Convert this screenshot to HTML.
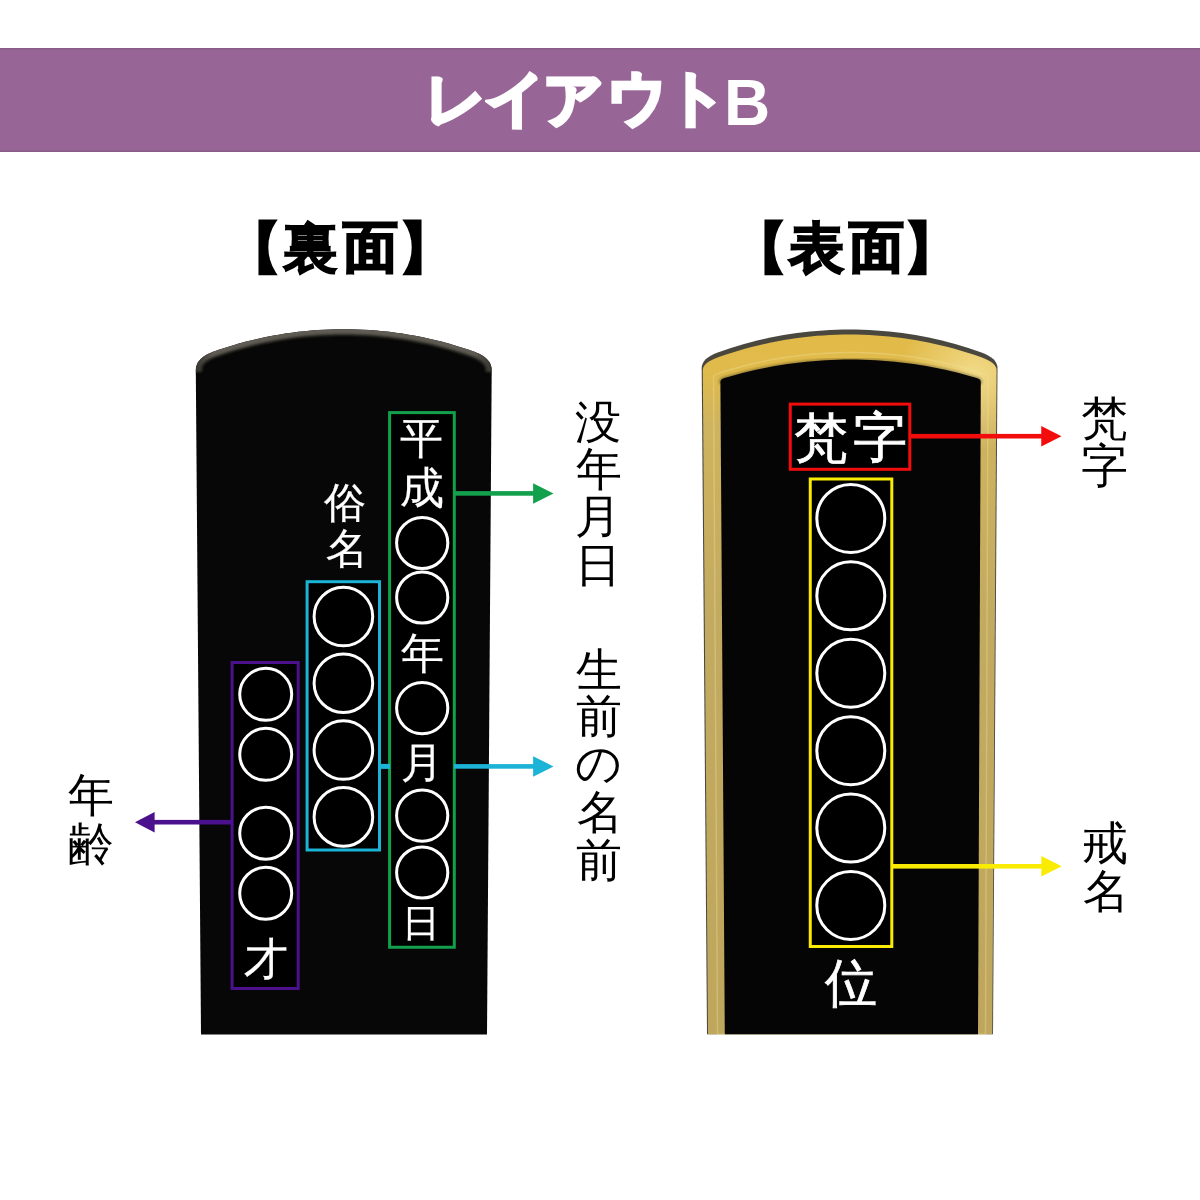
<!DOCTYPE html>
<html lang="ja"><head><meta charset="utf-8"><title>レイアウトB</title>
<style>
html,body{margin:0;padding:0;background:#fff;}
body{width:1200px;height:1200px;position:relative;overflow:hidden;font-family:"Liberation Sans",sans-serif;}
.g{position:absolute;white-space:pre;font-family:"Liberation Sans",sans-serif;will-change:transform;}
</style></head><body>
<svg width="1200" height="1200" viewBox="0 0 1200 1200" style="position:absolute;left:0;top:0">
<defs>
<linearGradient id="goldSide" x1="0" y1="0" x2="1" y2="0">
 <stop offset="0" stop-color="#c9b46a"/>
 <stop offset="0.5" stop-color="#bfa45c"/>
 <stop offset="1" stop-color="#c6b06a"/>
</linearGradient>
<linearGradient id="goldTop" x1="0" y1="0" x2="0" y2="1">
 <stop offset="0" stop-color="#e2ba48"/>
 <stop offset="0.05" stop-color="#e0bb4c"/>
 <stop offset="0.13" stop-color="#cfb35e"/>
 <stop offset="0.4" stop-color="#c2aa60"/>
 <stop offset="1" stop-color="#bea65c"/>
</linearGradient>
<filter id="soft" x="-5%" y="-5%" width="110%" height="110%"><feGaussianBlur stdDeviation="0.8"/></filter>
<linearGradient id="bevelFade" x1="0" y1="0" x2="1" y2="0">
 <stop offset="0" stop-color="#5f5b53" stop-opacity="0.25"/>
 <stop offset="0.06" stop-color="#5f5b53" stop-opacity="1"/>
 <stop offset="0.94" stop-color="#5f5b53" stop-opacity="1"/>
 <stop offset="1" stop-color="#5f5b53" stop-opacity="0.25"/>
</linearGradient>
<radialGradient id="paleTR" gradientUnits="userSpaceOnUse" cx="975" cy="375" r="75">
 <stop offset="0" stop-color="#fff3b8" stop-opacity="0.55"/>
 <stop offset="1" stop-color="#fff3b8" stop-opacity="0"/>
</radialGradient>
<clipPath id="clipL"><path d="M201.00,1034.50 L195.80,370.00 Q195.80,357.83 213.80,351.47 L220.30,349.24 L226.80,347.13 L233.29,345.15 L239.79,343.30 L246.29,341.56 L252.79,339.94 L259.28,338.45 L265.78,337.06 L272.28,335.80 L278.77,334.64 L285.27,333.60 L291.77,332.67 L298.27,331.86 L304.76,331.15 L311.26,330.55 L317.76,330.06 L324.26,329.68 L330.75,329.41 L337.25,329.25 L343.75,329.20 L350.25,329.25 L356.75,329.42 L363.24,329.69 L369.74,330.07 L376.24,330.56 L382.74,331.16 L389.23,331.87 L395.73,332.69 L402.23,333.62 L408.73,334.66 L415.22,335.81 L421.72,337.08 L428.22,338.47 L434.71,339.97 L441.21,341.59 L447.71,343.33 L454.21,345.18 L460.70,347.17 L467.20,349.27 L473.70,351.50 Q491.70,357.87 491.70,370.00 L487.00,1034.50 Z"/></clipPath>
<clipPath id="clipR"><path d="M707.00,1034.20 L701.70,368.00 Q701.70,358.23 717.70,352.48 L724.30,350.18 L730.89,348.01 L737.49,345.96 L744.08,344.05 L750.68,342.25 L757.27,340.59 L763.87,339.04 L770.46,337.61 L777.06,336.31 L783.65,335.12 L790.25,334.04 L796.84,333.09 L803.44,332.24 L810.03,331.51 L816.62,330.90 L823.22,330.39 L829.82,330.00 L836.41,329.72 L843.00,329.56 L849.60,329.50 L856.20,329.56 L862.79,329.72 L869.38,330.00 L875.98,330.39 L882.58,330.90 L889.17,331.51 L895.76,332.24 L902.36,333.09 L908.96,334.04 L915.55,335.12 L922.14,336.31 L928.74,337.61 L935.34,339.04 L941.93,340.59 L948.52,342.25 L955.12,344.05 L961.72,345.96 L968.31,348.01 L974.90,350.18 L981.50,352.48 Q997.50,358.23 997.50,368.00 L993.00,1034.20 Z"/></clipPath>
</defs>
<rect x="0" y="48" width="1200" height="104" fill="#976696"/>
<rect x="0" y="48" width="1200" height="1.5" fill="#8a5c88"/>
<rect x="0" y="150.5" width="1200" height="1.5" fill="#8a5c88"/>
<path d="M201.00,1034.50 L195.80,370.00 Q195.80,357.83 213.80,351.47 L220.30,349.24 L226.80,347.13 L233.29,345.15 L239.79,343.30 L246.29,341.56 L252.79,339.94 L259.28,338.45 L265.78,337.06 L272.28,335.80 L278.77,334.64 L285.27,333.60 L291.77,332.67 L298.27,331.86 L304.76,331.15 L311.26,330.55 L317.76,330.06 L324.26,329.68 L330.75,329.41 L337.25,329.25 L343.75,329.20 L350.25,329.25 L356.75,329.42 L363.24,329.69 L369.74,330.07 L376.24,330.56 L382.74,331.16 L389.23,331.87 L395.73,332.69 L402.23,333.62 L408.73,334.66 L415.22,335.81 L421.72,337.08 L428.22,338.47 L434.71,339.97 L441.21,341.59 L447.71,343.33 L454.21,345.18 L460.70,347.17 L467.20,349.27 L473.70,351.50 Q491.70,357.87 491.70,370.00 L487.00,1034.50 Z" fill="#070707"/>
<g clip-path="url(#clipL)" filter="url(#soft)"><path d="M195.80,372.00 L195.80,370.00 Q195.80,357.83 213.80,351.47 L220.30,349.24 L226.80,347.13 L233.29,345.15 L239.79,343.30 L246.29,341.56 L252.79,339.94 L259.28,338.45 L265.78,337.06 L272.28,335.80 L278.77,334.64 L285.27,333.60 L291.77,332.67 L298.27,331.86 L304.76,331.15 L311.26,330.55 L317.76,330.06 L324.26,329.68 L330.75,329.41 L337.25,329.25 L343.75,329.20 L350.25,329.25 L356.75,329.42 L363.24,329.69 L369.74,330.07 L376.24,330.56 L382.74,331.16 L389.23,331.87 L395.73,332.69 L402.23,333.62 L408.73,334.66 L415.22,335.81 L421.72,337.08 L428.22,338.47 L434.71,339.97 L441.21,341.59 L447.71,343.33 L454.21,345.18 L460.70,347.17 L467.20,349.27 L473.70,351.50 Q491.70,357.87 491.70,370.00 L491.70,372.00" fill="none" stroke="#34322d" stroke-width="13" opacity="0.8"/><path d="M195.80,372.00 L195.80,370.00 Q195.80,357.83 213.80,351.47 L220.30,349.24 L226.80,347.13 L233.29,345.15 L239.79,343.30 L246.29,341.56 L252.79,339.94 L259.28,338.45 L265.78,337.06 L272.28,335.80 L278.77,334.64 L285.27,333.60 L291.77,332.67 L298.27,331.86 L304.76,331.15 L311.26,330.55 L317.76,330.06 L324.26,329.68 L330.75,329.41 L337.25,329.25 L343.75,329.20 L350.25,329.25 L356.75,329.42 L363.24,329.69 L369.74,330.07 L376.24,330.56 L382.74,331.16 L389.23,331.87 L395.73,332.69 L402.23,333.62 L408.73,334.66 L415.22,335.81 L421.72,337.08 L428.22,338.47 L434.71,339.97 L441.21,341.59 L447.71,343.33 L454.21,345.18 L460.70,347.17 L467.20,349.27 L473.70,351.50 Q491.70,357.87 491.70,370.00 L491.70,372.00" fill="none" stroke="url(#bevelFade)" stroke-width="9"/></g>
<path d="M707.00,1034.20 L701.70,368.00 Q701.70,358.23 717.70,352.48 L724.30,350.18 L730.89,348.01 L737.49,345.96 L744.08,344.05 L750.68,342.25 L757.27,340.59 L763.87,339.04 L770.46,337.61 L777.06,336.31 L783.65,335.12 L790.25,334.04 L796.84,333.09 L803.44,332.24 L810.03,331.51 L816.62,330.90 L823.22,330.39 L829.82,330.00 L836.41,329.72 L843.00,329.56 L849.60,329.50 L856.20,329.56 L862.79,329.72 L869.38,330.00 L875.98,330.39 L882.58,330.90 L889.17,331.51 L895.76,332.24 L902.36,333.09 L908.96,334.04 L915.55,335.12 L922.14,336.31 L928.74,337.61 L935.34,339.04 L941.93,340.59 L948.52,342.25 L955.12,344.05 L961.72,345.96 L968.31,348.01 L974.90,350.18 L981.50,352.48 Q997.50,358.23 997.50,368.00 L993.00,1034.20 Z" fill="#4a473f"/>
<path d="M708.00,1034.20 L702.80,370.00 Q702.80,362.78 718.80,357.09 L725.34,354.82 L731.88,352.69 L738.43,350.68 L744.97,348.80 L751.51,347.04 L758.05,345.40 L764.60,343.88 L771.14,342.47 L777.68,341.19 L784.22,340.02 L790.77,338.96 L797.31,338.02 L803.85,337.19 L810.39,336.48 L816.94,335.87 L823.48,335.38 L830.02,334.99 L836.56,334.72 L843.11,334.55 L849.65,334.50 L856.19,334.56 L862.74,334.72 L869.28,335.00 L875.82,335.38 L882.36,335.88 L888.90,336.49 L895.45,337.20 L901.99,338.03 L908.53,338.98 L915.08,340.04 L921.62,341.21 L928.16,342.49 L934.70,343.90 L941.25,345.42 L947.79,347.06 L954.33,348.83 L960.87,350.71 L967.41,352.72 L973.96,354.86 L980.50,357.12 Q996.50,362.82 996.50,370.00 L992.20,1034.20 Z" fill="url(#goldTop)"/>
<path d="M708.00,1034.20 L702.80,370.00 Q702.80,362.78 718.80,357.09 L725.34,354.82 L731.88,352.69 L738.43,350.68 L744.97,348.80 L751.51,347.04 L758.05,345.40 L764.60,343.88 L771.14,342.47 L777.68,341.19 L784.22,340.02 L790.77,338.96 L797.31,338.02 L803.85,337.19 L810.39,336.48 L816.94,335.87 L823.48,335.38 L830.02,334.99 L836.56,334.72 L843.11,334.55 L849.65,334.50 L856.19,334.56 L862.74,334.72 L869.28,335.00 L875.82,335.38 L882.36,335.88 L888.90,336.49 L895.45,337.20 L901.99,338.03 L908.53,338.98 L915.08,340.04 L921.62,341.21 L928.16,342.49 L934.70,343.90 L941.25,345.42 L947.79,347.06 L954.33,348.83 L960.87,350.71 L967.41,352.72 L973.96,354.86 L980.50,357.12 Q996.50,362.82 996.50,370.00 L992.20,1034.20 Z" fill="url(#paleTR)"/>
<path d="M717.50,1034.20 L713.50,376.00 Q713.50,374.75 725.50,371.10 L731.76,369.25 L738.02,367.50 L744.29,365.85 L750.55,364.30 L756.81,362.85 L763.08,361.50 L769.34,360.25 L775.60,359.09 L781.86,358.03 L788.12,357.06 L794.39,356.19 L800.65,355.41 L806.91,354.73 L813.17,354.13 L819.44,353.63 L825.70,353.22 L831.96,352.90 L838.23,352.68 L844.49,352.54 L850.75,352.50 L857.01,352.55 L863.27,352.69 L869.54,352.92 L875.80,353.24 L882.06,353.65 L888.33,354.16 L894.59,354.76 L900.85,355.45 L907.11,356.23 L913.38,357.11 L919.64,358.08 L925.90,359.14 L932.16,360.31 L938.42,361.56 L944.69,362.92 L950.95,364.37 L957.21,365.93 L963.48,367.58 L969.74,369.33 L976.00,371.19 Q988.00,374.85 988.00,376.00 L985.50,1034.20 Z" fill="none" stroke="#f0e2a0" stroke-width="1.5" opacity="0.35"/>
<g clip-path="url(#clipR)"><path d="M720.40,384.00 L720.40,382.00 Q720.40,379.18 724.40,377.99 L730.71,376.15 L737.02,374.41 L743.33,372.78 L749.64,371.24 L755.95,369.80 L762.26,368.46 L768.57,367.21 L774.88,366.06 L781.19,365.01 L787.50,364.05 L793.81,363.18 L800.12,362.41 L806.43,361.72 L812.74,361.13 L819.05,360.63 L825.36,360.22 L831.67,359.91 L837.98,359.68 L844.29,359.55 L850.60,359.50 L856.91,359.55 L863.22,359.68 L869.53,359.91 L875.84,360.22 L882.15,360.63 L888.46,361.13 L894.77,361.72 L901.08,362.41 L907.39,363.18 L913.70,364.05 L920.01,365.01 L926.32,366.06 L932.63,367.21 L938.94,368.46 L945.25,369.80 L951.56,371.24 L957.87,372.78 L964.18,374.41 L970.49,376.15 L976.80,377.99 Q980.80,379.18 980.80,382.00 L980.80,384.00" fill="none" stroke="#2a2210" stroke-width="3" opacity="0.35" filter="url(#soft)"/></g>
<path d="M724.80,1034.20 L720.40,382.00 Q720.40,379.18 724.40,377.99 L730.71,376.15 L737.02,374.41 L743.33,372.78 L749.64,371.24 L755.95,369.80 L762.26,368.46 L768.57,367.21 L774.88,366.06 L781.19,365.01 L787.50,364.05 L793.81,363.18 L800.12,362.41 L806.43,361.72 L812.74,361.13 L819.05,360.63 L825.36,360.22 L831.67,359.91 L837.98,359.68 L844.29,359.55 L850.60,359.50 L856.91,359.55 L863.22,359.68 L869.53,359.91 L875.84,360.22 L882.15,360.63 L888.46,361.13 L894.77,361.72 L901.08,362.41 L907.39,363.18 L913.70,364.05 L920.01,365.01 L926.32,366.06 L932.63,367.21 L938.94,368.46 L945.25,369.80 L951.56,371.24 L957.87,372.78 L964.18,374.41 L970.49,376.15 L976.80,377.99 Q980.80,379.18 980.80,382.00 L978.00,1034.20 Z" fill="#040504"/>
<rect x="389.60" y="412.60" width="64.70" height="534.65" fill="#000" stroke="#12a04c" stroke-width="3"/>
<rect x="307.10" y="581.70" width="72.40" height="268.30" fill="#000" stroke="#1bb3d6" stroke-width="3"/>
<rect x="232.10" y="662.50" width="66.10" height="326.00" fill="#000" stroke="#4b118d" stroke-width="3"/>
<rect x="790.25" y="404.10" width="119.55" height="65.20" fill="#000" stroke="#f20c0c" stroke-width="3"/>
<rect x="810.25" y="479.00" width="81.55" height="467.50" fill="#000" stroke="#faeb02" stroke-width="3"/>
<rect x="454.00" y="491.10" width="80.10" height="4.6" fill="#12a04c"/><path d="M533.10,483.15 L553.50,493.40 L533.10,503.65 Z" fill="#12a04c"/>
<rect x="380" y="763.90" width="10" height="5" fill="#1bb3d6"/>
<rect x="454.00" y="764.10" width="80.10" height="4.6" fill="#1bb3d6"/><path d="M533.10,756.15 L553.50,766.40 L533.10,776.65 Z" fill="#1bb3d6"/>
<rect x="153.60" y="819.90" width="78.40" height="4.6" fill="#4b118d"/><path d="M154.60,811.95 L135.00,822.20 L154.60,832.45 Z" fill="#4b118d"/>
<rect x="910.00" y="433.90" width="132.25" height="4.6" fill="#f20c0c"/><path d="M1041.25,425.95 L1061.50,436.20 L1041.25,446.45 Z" fill="#f20c0c"/>
<rect x="892.00" y="864.00" width="150.30" height="4.6" fill="#faeb02"/><path d="M1041.30,856.05 L1061.70,866.30 L1041.30,876.55 Z" fill="#faeb02"/>
<circle cx="422.20" cy="543.00" r="25.60" fill="none" stroke="#fff" stroke-width="3"/>
<circle cx="422.20" cy="597.50" r="25.60" fill="none" stroke="#fff" stroke-width="3"/>
<circle cx="422.20" cy="708.10" r="25.60" fill="none" stroke="#fff" stroke-width="3"/>
<circle cx="422.20" cy="815.60" r="25.60" fill="none" stroke="#fff" stroke-width="3"/>
<circle cx="422.20" cy="872.50" r="25.60" fill="none" stroke="#fff" stroke-width="3"/>
<circle cx="343.40" cy="616.50" r="29.30" fill="none" stroke="#fff" stroke-width="3"/>
<circle cx="343.40" cy="683.20" r="29.30" fill="none" stroke="#fff" stroke-width="3"/>
<circle cx="343.40" cy="750.00" r="29.30" fill="none" stroke="#fff" stroke-width="3"/>
<circle cx="343.40" cy="816.90" r="29.30" fill="none" stroke="#fff" stroke-width="3"/>
<circle cx="265.70" cy="694.35" r="26.00" fill="none" stroke="#fff" stroke-width="3"/>
<circle cx="265.70" cy="754.35" r="26.00" fill="none" stroke="#fff" stroke-width="3"/>
<circle cx="265.70" cy="833.25" r="26.00" fill="none" stroke="#fff" stroke-width="3"/>
<circle cx="265.70" cy="893.30" r="26.00" fill="none" stroke="#fff" stroke-width="3"/>
<circle cx="850.80" cy="518.40" r="34.00" fill="none" stroke="#fff" stroke-width="3"/>
<circle cx="850.80" cy="595.82" r="34.00" fill="none" stroke="#fff" stroke-width="3"/>
<circle cx="850.80" cy="673.24" r="34.00" fill="none" stroke="#fff" stroke-width="3"/>
<circle cx="850.80" cy="750.66" r="34.00" fill="none" stroke="#fff" stroke-width="3"/>
<circle cx="850.80" cy="828.08" r="34.00" fill="none" stroke="#fff" stroke-width="3"/>
<circle cx="850.80" cy="905.50" r="34.00" fill="none" stroke="#fff" stroke-width="3"/>
</svg>
<div class="g" style="left:425.15px;top:69.55px;font-size:60px;line-height:60px;color:#ffffff;font-weight:bold;-webkit-text-stroke:3.60px #ffffff;">レ</div>
<div class="g" style="left:484.85px;top:68.60px;font-size:60px;line-height:60px;color:#ffffff;font-weight:bold;-webkit-text-stroke:3.60px #ffffff;">イ</div>
<div class="g" style="left:542.60px;top:69.75px;font-size:60px;line-height:60px;color:#ffffff;font-weight:bold;-webkit-text-stroke:3.60px #ffffff;">ア</div>
<div class="g" style="left:606.50px;top:68.25px;font-size:60px;line-height:60px;color:#ffffff;font-weight:bold;-webkit-text-stroke:3.60px #ffffff;">ウ</div>
<div class="g" style="left:665.55px;top:67.85px;font-size:60px;line-height:60px;color:#ffffff;font-weight:bold;-webkit-text-stroke:3.60px #ffffff;">ト</div>
<div class="g" style="left:723.70px;top:70.78px;font-size:64px;line-height:64px;color:#ffffff;font-weight:bold;">B</div>
<div class="g" style="left:226.37px;top:221.12px;font-size:55px;line-height:55px;color:#000000;font-weight:bold;-webkit-text-stroke:2.20px #000000;">【</div>
<div class="g" style="left:282.88px;top:221.25px;font-size:55px;line-height:55px;color:#000000;font-weight:bold;-webkit-text-stroke:1.10px #000000;">裏</div>
<div class="g" style="left:343.32px;top:219.62px;font-size:55px;line-height:55px;color:#000000;font-weight:bold;-webkit-text-stroke:2.20px #000000;">面</div>
<div class="g" style="left:398.52px;top:221.12px;font-size:55px;line-height:55px;color:#000000;font-weight:bold;-webkit-text-stroke:2.20px #000000;">】</div>
<div class="g" style="left:732.23px;top:221.12px;font-size:55px;line-height:55px;color:#000000;font-weight:bold;-webkit-text-stroke:2.20px #000000;">【</div>
<div class="g" style="left:789.02px;top:220.85px;font-size:55px;line-height:55px;color:#000000;font-weight:bold;-webkit-text-stroke:1.93px #000000;">表</div>
<div class="g" style="left:849.48px;top:219.88px;font-size:55px;line-height:55px;color:#000000;font-weight:bold;-webkit-text-stroke:2.20px #000000;">面</div>
<div class="g" style="left:903.92px;top:221.12px;font-size:55px;line-height:55px;color:#000000;font-weight:bold;-webkit-text-stroke:2.20px #000000;">】</div>
<div class="g" style="left:575.36px;top:398.57px;font-size:46px;line-height:46px;color:#000000;font-weight:normal;">没</div>
<div class="g" style="left:575.89px;top:446.49px;font-size:46px;line-height:46px;color:#000000;font-weight:normal;">年</div>
<div class="g" style="left:575.31px;top:493.47px;font-size:46px;line-height:46px;color:#000000;font-weight:normal;">月</div>
<div class="g" style="left:575.19px;top:541.97px;font-size:46px;line-height:46px;color:#000000;font-weight:normal;">日</div>
<div class="g" style="left:575.74px;top:647.03px;font-size:46px;line-height:46px;color:#000000;font-weight:normal;">生</div>
<div class="g" style="left:575.51px;top:693.09px;font-size:46px;line-height:46px;color:#000000;font-weight:normal;">前</div>
<div class="g" style="left:574.93px;top:740.03px;font-size:46px;line-height:46px;color:#000000;font-weight:normal;">の</div>
<div class="g" style="left:577.49px;top:789.12px;font-size:46px;line-height:46px;color:#000000;font-weight:normal;">名</div>
<div class="g" style="left:575.51px;top:837.39px;font-size:46px;line-height:46px;color:#000000;font-weight:normal;">前</div>
<div class="g" style="left:67.69px;top:771.79px;font-size:46px;line-height:46px;color:#000000;font-weight:normal;">年</div>
<div class="g" style="left:67.73px;top:820.77px;font-size:46px;line-height:46px;color:#000000;font-weight:normal;">齢</div>
<div class="g" style="left:1080.63px;top:394.50px;font-size:47px;line-height:47px;color:#000000;font-weight:normal;">梵</div>
<div class="g" style="left:1080.63px;top:442.37px;font-size:47px;line-height:47px;color:#000000;font-weight:normal;">字</div>
<div class="g" style="left:1081.80px;top:820.45px;font-size:46px;line-height:46px;color:#000000;font-weight:normal;">戒</div>
<div class="g" style="left:1083.39px;top:867.92px;font-size:46px;line-height:46px;color:#000000;font-weight:normal;">名</div>
<div class="g" style="left:399.93px;top:416.82px;font-size:43px;line-height:43px;color:#ffffff;font-weight:normal;-webkit-text-stroke:0.21px #ffffff;">平</div>
<div class="g" style="left:399.72px;top:465.75px;font-size:44px;line-height:44px;color:#ffffff;font-weight:normal;-webkit-text-stroke:0.22px #ffffff;">成</div>
<div class="g" style="left:400.64px;top:631.82px;font-size:43px;line-height:43px;color:#ffffff;font-weight:normal;-webkit-text-stroke:0.21px #ffffff;">年</div>
<div class="g" style="left:400.57px;top:742.49px;font-size:42px;line-height:42px;color:#ffffff;font-weight:normal;-webkit-text-stroke:0.21px #ffffff;">月</div>
<div class="g" style="left:401.57px;top:904.26px;font-size:38px;line-height:38px;color:#ffffff;font-weight:normal;-webkit-text-stroke:0.19px #ffffff;">日</div>
<div class="g" style="left:324.34px;top:482.16px;font-size:42px;line-height:42px;color:#ffffff;font-weight:normal;-webkit-text-stroke:0.21px #ffffff;">俗</div>
<div class="g" style="left:325.73px;top:528.29px;font-size:42px;line-height:42px;color:#ffffff;font-weight:normal;-webkit-text-stroke:0.21px #ffffff;">名</div>
<div class="g" style="left:244.04px;top:937.28px;font-size:44px;line-height:44px;color:#ffffff;font-weight:normal;-webkit-text-stroke:0.22px #ffffff;">才</div>
<div class="g" style="left:793.77px;top:410.50px;font-size:54px;line-height:54px;color:#ffffff;font-weight:normal;-webkit-text-stroke:0.81px #ffffff;">梵</div>
<div class="g" style="left:853.02px;top:410.24px;font-size:54px;line-height:54px;color:#ffffff;font-weight:normal;-webkit-text-stroke:0.81px #ffffff;">字</div>
<div class="g" style="left:824.54px;top:957.22px;font-size:52px;line-height:52px;color:#ffffff;font-weight:normal;-webkit-text-stroke:0.78px #ffffff;">位</div>
</body></html>
